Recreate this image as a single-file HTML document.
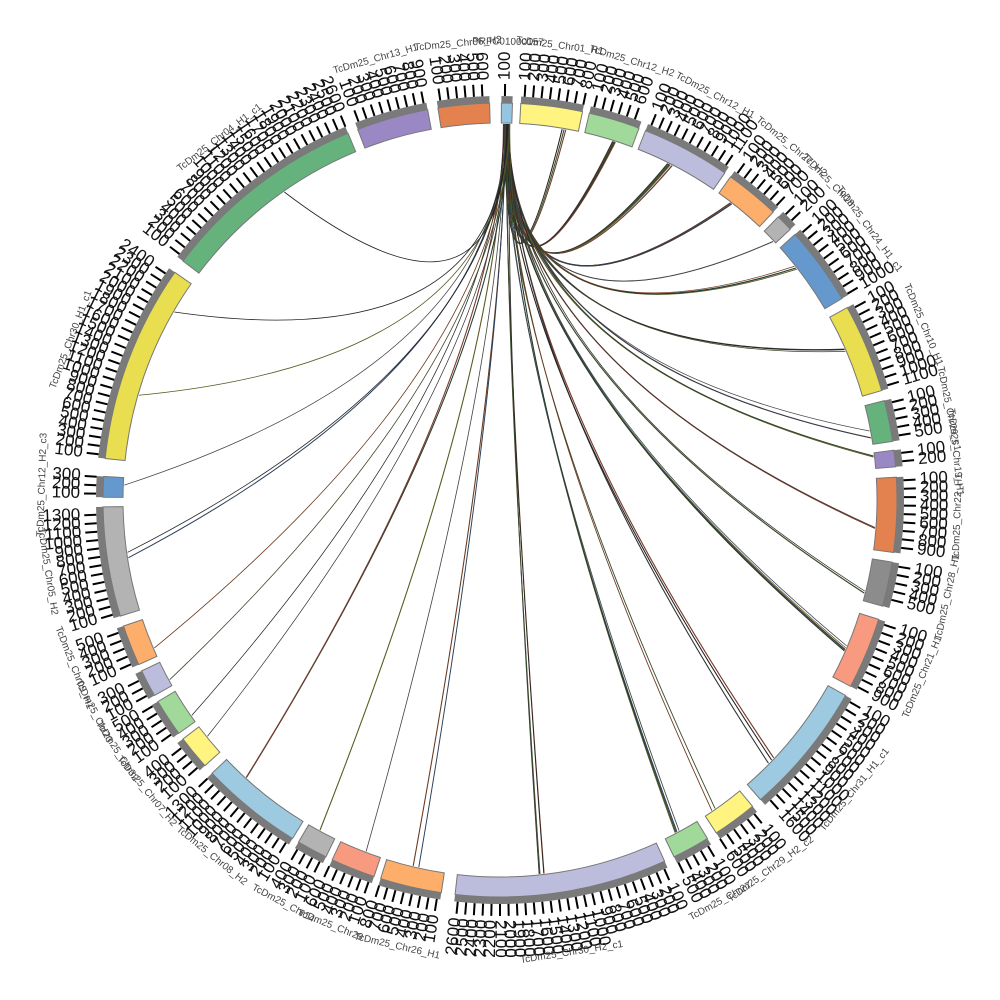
<!DOCTYPE html>
<html><head><meta charset="utf-8">
<style>html,body{margin:0;padding:0;background:#fff;}svg{display:block;}</style>
</head><body>
<svg id="s" xmlns="http://www.w3.org/2000/svg" width="1000" height="1000" viewBox="0 0 1000 1000"></svg>
<script>
var S=document.getElementById('s'),NS='http://www.w3.org/2000/svg';
var CX=500,CY=500,seed=7;
function rnd(){seed=(seed*16807)%2147483647;return seed/2147483647;}
function P(r,a){var t=a*Math.PI/180;return [CX+r*Math.sin(t),CY-r*Math.cos(t)];}
function el(n,at,txt){var e=document.createElementNS(NS,n);for(var k in at)e.setAttribute(k,at[k]);if(txt!=null)e.textContent=txt;S.appendChild(e);return e;}
function arc(r1,r2,a1,a2,fill,stroke){
 var p1=P(r2,a1),p2=P(r2,a2),p3=P(r1,a2),p4=P(r1,a1),l=(a2-a1)>180?1:0;
 return el('path',{d:'M'+p1+' A'+r2+' '+r2+' 0 '+l+' 1 '+p2+' L'+p3+' A'+r1+' '+r1+' 0 '+l+' 0 '+p4+'Z',fill:fill,stroke:stroke||'none','stroke-width':1});
}
var segs=[
[0.2,1.8,'#96c5e1','PRFC01000157'],
[3,12,'#fff480','TcDm25_Chr01_H1'],
[13,20.5,'#a1d99b','TcDm25_Chr12_H2'],
[21.5,34.5,'#bcbddc','TcDm25_Chr12_H1'],
[35.5,43.5,'#fdae6b','TcDm25_Chr27_H2'],
[44.5,47,'#b3b3b3','TcDm25_Chr18'],
[48,59.5,'#6599cd','TcDm25_Chr24_H1_c1'],
[61,74,'#e9dd50','TcDm25_Chr10_H1'],
[75.5,81.5,'#66b27c','TcDm25_Chr29_c1'],
[82.8,85.2,'#9988c4','TcDm25_Chr19_H1'],
[86.7,97.6,'#e3814f','TcDm25_Chr22_H1'],
[99,105.5,'#8c8c8c','TcDm25_Chr28_H1'],
[107.5,118,'#f79a80','TcDm25_Chr21_H1'],
[119.5,139,'#9ecae1','TcDm25_Chr31_H1_c1'],
[140.5,147,'#fff480','TcDm25_Chr29_H2_c2'],
[148.5,154,'#a1d99b','TcDm25_Chr27'],
[155.5,186.5,'#bcbddc','TcDm25_Chr30_H2_c1'],
[188.5,197.5,'#fdae6b','TcDm25_Chr26_H1'],
[198.5,205,'#f79a80','TcDm25_Chr29'],
[206,210.5,'#b3b3b3','TcDm25_Chr14'],
[211.5,226.5,'#9ecae1','TcDm25_Chr08_H2'],
[228,233,'#fff480','TcDm25_Chr07_H2'],
[234,239.5,'#a1d99b','TcDm25_Chr32'],
[240.5,244.5,'#bcbddc','TcDm25_Chr23'],
[245.5,251.5,'#fdae6b','TcDm25_Chr09_H1'],
[253,269,'#b3b3b3','TcDm25_Chr05_H2'],
[270.4,273.4,'#6599cd','TcDm25_Chr12_H2_c3'],
[276,305,'#e9dd50','TcDm25_Chr30_H1_c1'],
[307,337.5,'#66b27c','TcDm25_Chr04_H1_c1'],
[339,349.5,'#9988c4','TcDm25_Chr13_H1'],
[351,358.5,'#e3814f','TcDm25_Chr06_H2']
];
var lc=['#222','#3a4a2a','#6a3a20','#2b3f5a','#444','#5a5a20','#203a30','#7a3a2a','#333'];
var g=el('g',{fill:'none'});
function link(a1,a2,col,w){
 var p0=P(376,a1),p2=P(376,a2);
 var e=document.createElementNS(NS,'path');
 e.setAttribute('d','M'+p0+' Q505,360 '+p2);
 e.setAttribute('stroke',col);e.setAttribute('stroke-width',w);e.setAttribute('fill','none');
 g.appendChild(e);
}
var counts=[0,3,6,8,5,1,3,3,3,2,2,2,5,3,2,4,4,2,1,1,2,1,1,1,1,1,1,1,0,0,0];
var n=0;
segs.forEach(function(s,i){
 var cnt=counts[i];
 var c=s[0]+(s[1]-s[0])*(0.2+0.6*rnd());
 for(var k=0;k<cnt;k++){
  var a2=c+(rnd()-0.5)*1.2;
  var a1=0.5+1.0*rnd();
  link(a1,a2,lc[(n++)%lc.length],0.7+rnd()*0.5);
 }
});
link(325,1,'#222',0.8);link(262,1.2,'#222',0.8);link(300,1.1,'#222',0.8);
segs.forEach(function(s){
 arc(377,397,s[0],s[1],s[2],'#777');
 arc(397,404,s[0],s[1],'#7a7a7a');
 var step=1.2,k=1;
 for(var a=s[0]+0.5;a<s[1];a+=step,k++){
  var q1=P(404,a),q2=P(416,a);
  el('line',{x1:q1[0],y1:q1[1],x2:q2[0],y2:q2[1],stroke:'#000','stroke-width':2});
  var q=P(420,a),left=a>180;
  var rot=left?a+90:a-90;
  el('text',{x:q[0],y:q[1],'font-family':'Liberation Sans, sans-serif','font-size':17,fill:'#111','dominant-baseline':'middle','text-anchor':left?'end':'start',transform:'rotate('+rot+' '+q[0]+' '+q[1]+')'},String(k*100));
 }
 var m=(s[0]+s[1])/2,q=P(458,m),rot=(m>90&&m<270)?m-180:m;
 el('text',{x:q[0],y:q[1],'font-family':'Liberation Sans, sans-serif','font-size':10,fill:'#444','text-anchor':'middle','dominant-baseline':'middle',transform:'rotate('+rot+' '+q[0]+' '+q[1]+')'},s[3]);
});
</script>
</body></html>
